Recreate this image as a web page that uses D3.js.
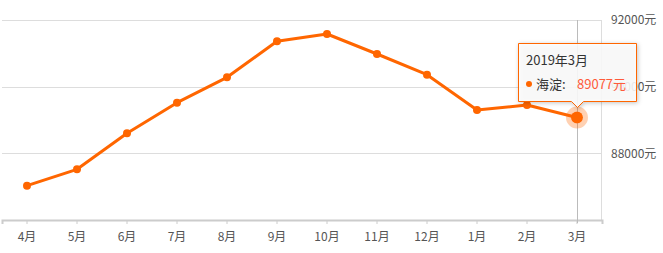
<!DOCTYPE html>
<meta charset="utf-8">
<head>
  <style>
    body { margin: 0; background: #fff; font-family: "Noto Sans CJK SC", "Noto Sans", sans-serif; }
    .axis-label { fill: #555; font-size: 12px; }
    .grid { stroke: #ddd; stroke-width: 1; }
  </style>
</head>
<body>
  <div class="chart"></div>
  <script src="https://d3js.org/d3.v7.min.js"></script>
  <script>
    var months = ["4月", "5月", "6月", "7月", "8月", "9月", "10月", "11月", "12月", "1月", "2月", "3月"];
    var prices = [87030, 87520, 88600, 89520, 90280, 91360, 91580, 90980, 90360, 89300, 89450, 89077];
    var yTicks = [88000, 90000, 92000];
    var tipTitle = "2019年3月";
    var tipName = "海淀";

    var width = 663, height = 253;
    var svg = d3.select(".chart").append("svg")
        .attr("width", width)
        .attr("height", height);

    var x = d3.scaleBand().domain(months).range([2, 602]);
    var y = d3.scaleLinear().domain([86000, 92000]).range([220, 20]);
    var cx = function(d) { return x(d) + x.bandwidth() / 2; };

    // grid lines
    svg.selectAll(".grid")
        .data(yTicks)
      .enter().append("line")
        .attr("class", "grid")
        .attr("x1", 2).attr("x2", 602)
        .attr("y1", function(d) { return Math.round(y(d)) + 0.5; })
        .attr("y2", function(d) { return Math.round(y(d)) + 0.5; });

    // right border
    svg.append("line")
        .attr("x1", 601.5).attr("x2", 601.5)
        .attr("y1", 20).attr("y2", 220)
        .attr("stroke", "#ddd");

    // y labels on right
    svg.selectAll(".ylab")
        .data(yTicks)
      .enter().append("text")
        .attr("class", "axis-label")
        .attr("x", 611)
        .attr("y", function(d) { return y(d); })
        .attr("dy", "0.35em")
        .text(function(d) { return d + "元"; });

    // x axis
    var xAxis = d3.axisBottom(x).tickSize(4).tickPadding(8);
    var gx = svg.append("g")
        .attr("transform", "translate(0,220)")
        .call(xAxis);
    gx.select(".domain").attr("stroke", "#ccc").attr("stroke-width", 2);
    gx.selectAll(".tick line").attr("stroke", "#ccc");
    gx.selectAll(".tick text")
        .attr("fill", "#555")
        .style("font-size", "12px")
        .style("font-family", "'Noto Sans CJK SC', sans-serif");

    // pointer line at last month
    var last = months.length - 1;
    svg.append("line")
        .attr("x1", Math.round(cx(months[last])) + 0.5)
        .attr("x2", Math.round(cx(months[last])) + 0.5)
        .attr("y1", 20).attr("y2", 223)
        .attr("stroke", "#bbb");

    // line
    var line = d3.line()
        .x(function(d, i) { return cx(months[i]); })
        .y(function(d) { return y(d); });

    svg.append("path")
        .datum(prices)
        .attr("fill", "none")
        .attr("stroke", "#ff6600")
        .attr("stroke-width", 3)
        .attr("stroke-linejoin", "round")
        .attr("d", line);

    svg.selectAll(".dot")
        .data(prices)
      .enter().append("circle")
        .attr("class", "dot")
        .attr("r", function(d, i) { return i === last ? 6 : 4; })
        .attr("cx", function(d, i) { return cx(months[i]); })
        .attr("cy", function(d) { return y(d); })
        .attr("fill", "#ff6600");

    // halo for hovered point
    svg.append("circle")
        .attr("cx", cx(months[last]))
        .attr("cy", y(prices[last]))
        .attr("r", 8.5)
        .attr("fill", "none")
        .attr("stroke", "#ff6600")
        .attr("stroke-opacity", 0.3)
        .attr("stroke-width", 5);

    // tooltip
    var tx = 518.5, ty = 43.5, tw = 118, th = 58;
    var ax = Math.round(cx(months[last])) + 0.5;
    var tip = svg.append("g");
    tip.append("path")
        .attr("d", "M" + tx + "," + ty + "h" + tw + "v" + th +
              "H" + (ax + 6) + "l-6,6l-6,-6H" + tx + "Z")
        .attr("fill", "rgba(255,255,255,0.88)")
        .attr("stroke", "#ff6600")
        .attr("stroke-width", 1)
        .style("filter", "drop-shadow(1px 1px 2px rgba(0,0,0,0.25))");
    tip.append("text")
        .attr("x", 526).attr("y", 60)
        .attr("dy", "0.35em")
        .attr("fill", "#333")
        .style("font-size", "13px")
        .text(tipTitle);
    tip.append("circle")
        .attr("cx", 529).attr("cy", 84).attr("r", 3)
        .attr("fill", "#ff6600");
    tip.append("text")
        .attr("x", 536).attr("y", 84)
        .attr("dy", "0.35em")
        .attr("fill", "#333")
        .style("font-size", "13px")
        .text(tipName + ":");
    tip.append("text")
        .attr("x", 577).attr("y", 84)
        .attr("dy", "0.35em")
        .attr("fill", "#ff5a3a")
        .style("font-size", "13px")
        .text(prices[last] + "元");
  </script>
</body>
